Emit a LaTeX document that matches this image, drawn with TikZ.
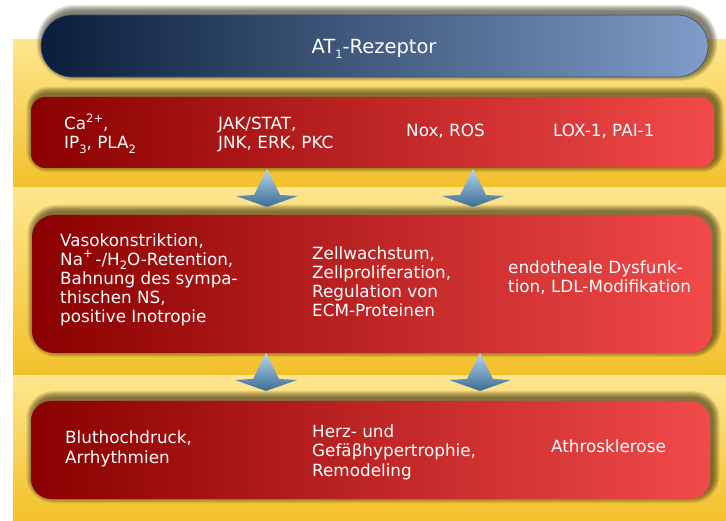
\documentclass[tikz,border=0pt]{standalone}
\usepackage{fontspec}
\setmainfont{DejaVu Sans}

\definecolor{navyL}{HTML}{0A1D3A}
\definecolor{steelR}{HTML}{7E9DC8}
\definecolor{redL}{HTML}{8A0000}
\definecolor{redR}{HTML}{F24A4A}
\definecolor{bandTop}{HTML}{FEE68E}
\definecolor{bandBot}{HTML}{F2C02A}
\definecolor{arrTop}{HTML}{B5D5EF}
\definecolor{arrBot}{HTML}{3B6D96}
\definecolor{shadeDark}{HTML}{2A2208}

% raised / lowered indices in running text
\newcommand\hi[1]{\raisebox{0.45em}{\fontsize{11.5}{12}\selectfont #1}}
\newcommand\lo[1]{\raisebox{-0.25em}{\fontsize{11.5}{12}\selectfont #1}}
% pyramid-like arrow: tip at (#1,#2)
\newcommand\keilpfeil[2]{%
  \shade[uparrow] (#1,#2) -- ++(13,26) -- ++(18,1) -- ++(-31,11)
    -- ++(-31,-11) -- ++(18,-1) -- cycle;}
% soft shadow, shifted up and right: radius, x1, y1, x2, y2
\newcommand\softshadow[5]{%
  \foreach \k in {1,...,7}{%
    \fill[shadeDark, opacity=0.11, rounded corners=#1pt+\k pt]
      (#2-\k+2.5, #3-\k-3) rectangle (#4+\k+2.5, #5+\k-3);
  }}

\tikzset{
  band/.style={top color=bandTop, bottom color=bandBot},
  redbox/.style={left color=redL, right color=redR},
  % anchored at the baseline of the last line
  lbl/.style={text=white, font=\fontsize{16.8}{19.2}\selectfont,
      align=left, anchor=base west, inner sep=0pt},
  uparrow/.style={top color=arrTop, bottom color=arrBot},
}

\begin{document}
\begin{tikzpicture}[x=1pt,y=-1pt]
\useasboundingbox (0,0) rectangle (726,521);
\fill[white] (0,0) rectangle (726,521);

% background bands
\shade[band] (13,40)  rectangle (726,188);
\shade[band] (13,188) rectangle (726,376);
\shade[band] (13,376) rectangle (726,521);

% receptor bar
\softshadow{31}{41}{15}{708}{77}
\shade[left color=navyL, right color=steelR, rounded corners=31pt,
       draw=navyL!60!steelR, line width=0.6pt]
  (41,15) rectangle (708,77);
\node[text=white, font=\fontsize{19.5}{22}\selectfont, anchor=base, inner sep=0pt]
  (at1) at (374,54) {AT\lo{1}-Rezeptor};

% red rows
\softshadow{14}{31}{97}{714}{168}
\shade[redbox, rounded corners=14pt] (31,97)  rectangle (714,168);
\softshadow{22}{32}{215}{712}{353}
\shade[redbox, rounded corners=22pt] (32,215) rectangle (712,353);
\softshadow{20}{31}{401}{710}{499}
\shade[redbox, rounded corners=20pt] (31,401) rectangle (710,499);

% arrows between rows
\keilpfeil{267}{169}
\keilpfeil{473}{169}
\keilpfeil{266}{353}
\keilpfeil{480}{353}

% row 1
\node[lbl] (c1) at (64,149)  {Ca\hi{2+},\\IP\lo{3}, PLA\lo{2}};
\node[lbl] (c2) at (218,149) {JAK/STAT,\\JNK, ERK, PKC};
\node[lbl] (c3) at (406,137) {Nox, ROS};
\node[lbl] (c4) at (553,137) {LOX-1, PAI-1};

% row 2
\node[lbl] (d1) at (60,323)  {Vasokonstriktion,\\Na\hi{+}\,-/H\lo{2}O-Retention,\\Bahnung des sympa-\\thischen NS,\\positive Inotropie};
\node[lbl] (d2) at (312,317) {Zellwachstum,\\Zellproliferation,\\Regulation von\\ECM-Proteinen};
\node[lbl] (d3) at (508,293) {endotheale Dysfunk-\\tion, LDL-Modifikation};

% row 3
\node[lbl] (e1) at (65,463)  {Bluthochdruck,\\Arrhythmien};
\node[lbl] (e2) at (312,476) {Herz- und\\Gefäβhypertrophie,\\Remodeling};
\node[lbl] (e3) at (551,452) {Athrosklerose};
\end{tikzpicture}
\end{document}
